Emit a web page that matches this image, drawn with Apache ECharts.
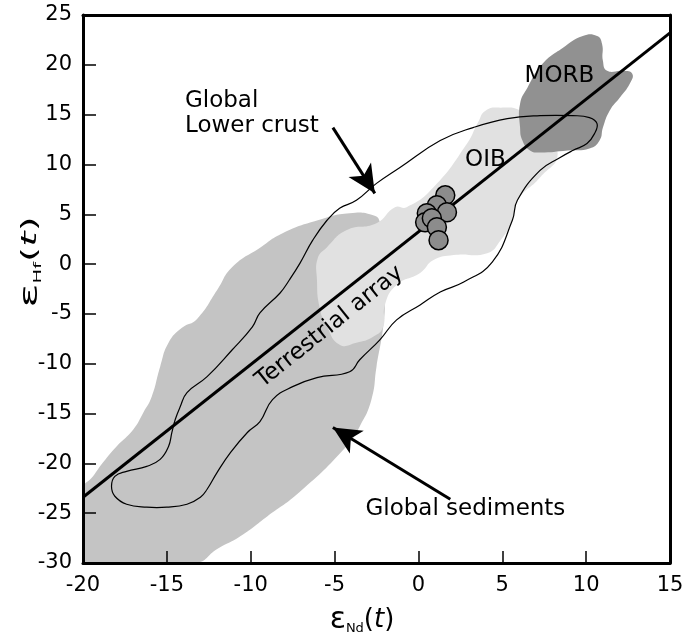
<!DOCTYPE html>
<html>
<head>
<meta charset="utf-8">
<script src="https://cdn.jsdelivr.net/npm/echarts@6/dist/echarts.min.js"></script>
<style>
  html, body { margin: 0; padding: 0; background: #fff; }
  #main { width: 694px; height: 640px; }
</style>
</head>
<body>
<div id="main"></div>
<script>
// field outlines as [eNd, eHf]
const sediments = [[-20,-30],[-20,-22.6],[-19.4,-21.3],[-18.8,-19.9],[-18,-18.3],[-17,-16.6],[-16.4,-14.9],
  [-15.9,-13.3],[-15.4,-10.3],[-14.9,-7.9],[-14.1,-6.4],[-13.2,-5.5],[-12,-2.6],[-11.1,-0.3],[-9.4,1.7],
  [-8.1,3.1],[-6,4.4],[-4.1,5.1],[-2.7,4.9],[-2.3,4.2],[-2.05,0.4],[-2,-3.6],[-2.1,-6.3],[-2.5,-10.3],
  [-2.8,-13.6],[-3.5,-16.3],[-4.3,-18.3],[-7.1,-22.9],[-9,-25.3],[-10.6,-27.3],[-12,-28.6],[-13.3,-30]];

const oib = [[-6,0.6],[-6.05,-1.6],[-5.9,-4.3],[-5.45,-6.3],[-4.7,-8.1],[-3.7,-7.9],[-2.7,-7.3],[-2.1,-6.3],
  [-2,-4.1],[-1.3,-2.1],[0.1,-0.9],[0.9,0.4],[2.1,0.9],[4.1,1.1],[4.9,2.4],[5.6,4.4],[5.9,6.4],[7.25,8.7],
  [8.3,11.1],[7.25,13.9],[6.1,15.4],[4.9,15.7],[4,15.4],[3.55,14.2],[2.9,12.1],[0.9,7.7],[-0.7,5.7],
  [-1.4,5.7],[-2.5,4.1],[-4.3,3.4],[-5.45,1.7]];

const morb = [[6.06,13.7],[6.06,16.1],[6.5,17.7],[7.4,20.1],[8.6,21.7],[9.8,22.9],[10.65,22.9],[10.95,22.1],
  [11,20.4],[11.25,19.4],[12.2,19.4],[12.75,19.1],[12.6,18.1],[12,16.7],[11.4,15.4],[11,13.7],[10.8,12.4],
  [10.2,11.6],[8.9,11.4],[7.25,11.2],[6.65,11.4],[6.2,12.4]];

const lowerCrust = [[10.65,14.1],[10.2,14.7],[9.2,14.9],[7.25,14.9],[5.3,14.6],[3.26,13.7],[1.3,12.4],
  [-1.1,9.7],[-2.5,8.1],[-3.7,6.4],[-4.7,5.6],[-5.45,4.4],[-6.3,2.4],[-7.06,0.1],[-7.7,-1.6],[-8.25,-2.9],
  [-9.45,-4.9],[-9.9,-6.3],[-11.1,-8.6],[-12.6,-11.3],[-13.8,-12.9],[-14.2,-14.3],[-14.5,-15.6],[-14.7,-16.9],
  [-14.9,-18.3],[-15.4,-19.6],[-16.2,-20.3],[-17.4,-20.8],[-18.1,-21.3],[-18.3,-22.3],[-18.1,-23.3],
  [-17.4,-24.1],[-16.2,-24.4],[-15,-24.4],[-13.8,-24.1],[-13,-23.4],[-12.6,-22.6],[-12,-20.9],[-11.2,-18.9],
  [-10.2,-16.9],[-9.45,-15.8],[-8.7,-13.6],[-7.5,-12.3],[-6.05,-11.4],[-4.1,-10.8],[-3.5,-9.6],[-2.3,-7.6],
  [-1.3,-5.6],[0.1,-4.1],[1.3,-2.8],[2.7,-1.8],[4.4,0.2],[5.6,4.4],[5.9,6.4],[7.25,9.4],[8.45,10.7],
  [9.2,11.4],[10.05,12.1],[10.5,13.1]];

const terrestrialArray = [[-20,-23.4],[15,23.2]];

// samples
const sampleNd = [1.6, 1.1, 0.5, 1.7, 0.4, 0.8, 1.1, 1.2];
const sampleHf = [6.9, 5.9, 5.1, 5.2, 4.2, 4.6, 3.7, 2.4];

// arrows: [tail, head]
const arrowLowerCrust = [[-5.1,13.7],[-2.6,7.1]];
const arrowSediments = [[1.9,-23.6],[-5.1,-16.4]];

const xTicks = [-20, -15, -10, -5, 0, 5, 10, 15];
const yTicks = [-30, -25, -20, -15, -10, -5, 0, 5, 10, 15, 20, 25];

const labelNames = ['Global', 'Lower crust', 'MORB', 'OIB', 'Terrestrial array', 'Global sediments'];
const labelPos = [[-13.95,16.4],[-13.95,13.9],[6.3,18.9],[2.75,10.4],[-5.3,-6.3],[2.8,-24.6]];

const FONT = 'DejaVu Sans';

function area(name, pts, fill, stroke, lw, smooth, z) {
  return {
    type: 'custom', name: name, silent: true, clip: true, z: z,
    data: pts,
    renderItem: function (params, api) {
      if (params.dataIndex !== 0) return null;
      return {
        type: 'polygon',
        shape: { points: pts.map(function (p) { return api.coord(p); }), smooth: smooth },
        style: { fill: fill, stroke: stroke, lineWidth: lw }
      };
    }
  };
}

const labelStyles = [
  { position: 'right', distance: 0 },
  { position: 'right', distance: 0 },
  { position: 'right', distance: 0 },
  { position: 'right', distance: 0 },
  { position: 'inside', rotate: 38.6 },
  { position: 'inside' }
];

function nameRich(sub) {
  return {
    text: '{e|ε}{s|' + sub + '}{p|(}{i|t}{p|)}',
    align: 'center', verticalAlign: 'middle', textAlign: 'center', textVerticalAlign: 'middle',
    rich: {
      e: { fontFamily: FONT, fontSize: 30, fill: '#000' },
      s: { fontFamily: FONT, fontSize: 13, fill: '#000', verticalAlign: 'bottom', padding: [12, 0, 0, 0] },
      p: { fontFamily: FONT, fontSize: 26, fill: '#000' },
      i: { fontFamily: FONT, fontSize: 26, fontStyle: 'italic', fill: '#000' }
    }
  };
}

const chart = echarts.init(document.getElementById('main'));

const axisCommon = {
  type: 'value', z: 10,
  splitLine: { show: false },
  axisLine: { show: true, onZero: false, lineStyle: { color: '#000', width: 3 } }
};

chart.setOption({
  animation: false,
  backgroundColor: '#fff',
  grid: { left: 83, right: 24, top: 15, bottom: 77 },
  xAxis: [
    Object.assign({}, axisCommon, {
      position: 'bottom', min: -20, max: 15, interval: 5,
      axisTick: { inside: true, length: 12, lineStyle: { color: '#000', width: 1.5 } },
      axisLabel: { fontFamily: FONT, fontSize: 21, color: '#000', margin: 12,
        formatter: function (v) { return xTicks.indexOf(v) >= 0 ? String(v) : ''; } }
    }),
    Object.assign({}, axisCommon, {
      position: 'top', min: -20, max: 15, interval: 5,
      axisTick: { show: false }, axisLabel: { show: false }
    })
  ],
  yAxis: [
    Object.assign({}, axisCommon, {
      position: 'left', min: -30, max: 25, interval: 5,
      axisTick: { inside: true, length: 13, lineStyle: { color: '#000', width: 1.5 } },
      axisLabel: { fontFamily: FONT, fontSize: 21, color: '#000', margin: 11,
        formatter: function (v) { return yTicks.indexOf(v) >= 0 ? String(v) : ''; } }
    }),
    Object.assign({}, axisCommon, {
      position: 'right', min: -30, max: 25, interval: 5,
      axisTick: { show: false }, axisLabel: { show: false }
    })
  ],
  graphic: [
    { type: 'text', x: 362, y: 620, silent: true, style: nameRich('Nd') },
    { type: 'text', x: 31, y: 262, rotation: Math.PI / 2, scaleX: 1.5, scaleY: 0.8, silent: true, style: nameRich('Hf') }
  ],
  series: [
    area('Global sediments', sediments, '#c4c4c4', null, 0, 0.5, 1),
    area('OIB', oib, '#e1e1e1', null, 0, 0.5, 2),
    area('MORB', morb, '#919191', null, 0, 0.5, 3),
    area('Global lower crust', lowerCrust, null, '#000', 1.2, 0.45, 4),
    {
      type: 'line', name: 'Terrestrial array', z: 5, silent: true,
      data: terrestrialArray, symbol: 'none',
      lineStyle: { color: '#000', width: 3 },
      markLine: {
        silent: true, symbol: ['none', 'arrow'], symbolSize: [20, 28],
        label: { show: false },
        lineStyle: { color: '#000', width: 3, type: 'solid' },
        data: [
          [{ coord: arrowLowerCrust[0] }, { coord: arrowLowerCrust[1] }],
          [{ coord: arrowSediments[0] }, { coord: arrowSediments[1] }]
        ]
      }
    },
    {
      type: 'scatter', name: 'samples', z: 7, silent: true,
      data: sampleNd.map(function (x, i) { return [x, sampleHf[i]]; }),
      symbolSize: 19,
      itemStyle: { color: '#8c8c8c', borderColor: '#000', borderWidth: 1.5, opacity: 1 }
    },
    {
      type: 'scatter', name: 'labels', z: 8, silent: true,
      symbolSize: 1, itemStyle: { color: '#fff', opacity: 0 },
      data: labelNames.map(function (n, i) {
        return {
          name: n, value: labelPos[i],
          label: Object.assign({ show: true, formatter: n, fontFamily: FONT, fontSize: 23,
            color: '#000', opacity: 1 }, labelStyles[i])
        };
      })
    }
  ]
});
</script>
</body>
</html>
